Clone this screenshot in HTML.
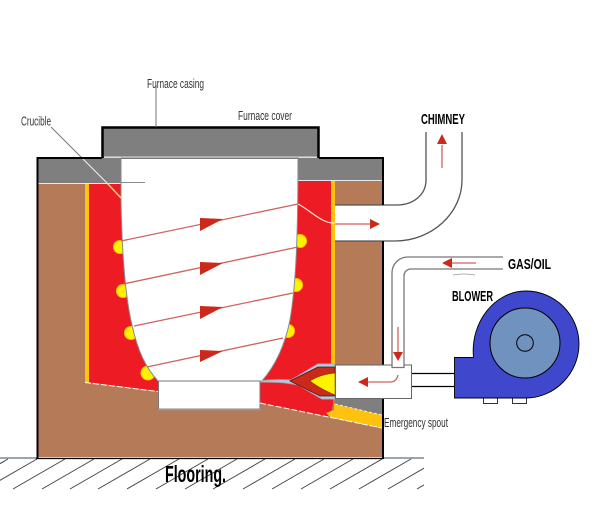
<!DOCTYPE html>
<html>
<head>
<meta charset="utf-8">
<style>
html,body{margin:0;padding:0;background:#fff;width:610px;height:521px;overflow:hidden}
svg{display:block}
text{font-family:"Liberation Sans Narrow","Liberation Sans",sans-serif}
</style>
</head>
<body>
<svg width="610" height="521" viewBox="0 0 610 521" xmlns="http://www.w3.org/2000/svg">
<defs><clipPath id="fl"><rect x="0" y="458" width="424" height="32"/></clipPath></defs>
<rect width="610" height="521" fill="#fff"/>
<!-- floor hatching -->
<g stroke="#444" stroke-width="1" fill="none" clip-path="url(#fl)">
<path d="M8 459L-44 489M37 459L-15 489M65 459L13 489M94 459L42 489M122 459L70 489M150 459L98 489M179 459L127 489M208 459L156 489M237 459L185 489M265 459L213 489M295 459L243 489M324 459L272 489M353 459L301 489M382 459L330 489M411 459L359 489M440 459L388 489M469 459L417 489"/>
</g>
<path d="M0 458H424" stroke="#607080" stroke-width="1.200"/>
<!-- furnace brown body -->
<rect x="37" y="158" width="346" height="300" fill="#b57a57"/>
<path d="M38 457.500H383" stroke="#eee" stroke-width="1"/>
<!-- red lining -->
<path d="M87 180H333V404L330 417L260 403V381H158V391L87 382Z" fill="#ed1c24"/>
<!-- gold strips -->
<rect x="85" y="183" width="4" height="200" fill="#ffc20e"/>
<rect x="331" y="180" width="4" height="186" fill="#ffc20e"/>
<!-- grey top bands -->
<rect x="37" y="158" width="84" height="25" fill="#7f7f7f"/>
<rect x="298" y="158" width="85" height="22" fill="#7f7f7f"/>
<path d="M38 183.500H121M298 180.500H383" stroke="#e8e8e8" stroke-width="1"/>
<!-- furnace cover -->
<rect x="102" y="127" width="217" height="31" fill="#7f7f7f"/>
<path d="M102.500 158V127.500H318.500V158" fill="none" stroke="#000" stroke-width="2.500"/>
<rect x="104" y="156.500" width="213" height="1.500" fill="#ddd"/>
<!-- yellow bumps -->
<g fill="#fff200" stroke="#ffc20e" stroke-width="1">
<circle cx="120" cy="247" r="6.500"/>
<circle cx="123" cy="291" r="6.500"/>
<circle cx="131" cy="333" r="6.500"/>
<circle cx="148" cy="373" r="7"/>
<circle cx="300" cy="241" r="6.500"/>
<circle cx="296" cy="285" r="6.500"/>
<circle cx="288" cy="331" r="6.500"/>
</g>
<!-- crucible -->
<path d="M121 158V200C122 260 126 300 132 325C138 352 146 368 158 381H262C275 366 285 345 290 320C295 290 298 250 298 158Z" fill="#fff" stroke="#8a8a8a" stroke-width="1"/>
<rect x="158.500" y="381" width="101.500" height="28" fill="#fff" stroke="#777" stroke-width="1"/>
<path d="M158 409.500H261" stroke="#999" stroke-width="1.500"/>
<path d="M121 158.500H298" stroke="#777" stroke-width="1"/>
<!-- white dashes on boundaries -->
<path d="M85 382.500L158 391.500M260 403L382 428" stroke="#fff" stroke-width="1" stroke-dasharray="6 2" fill="none"/>
<!-- crucible leader -->
<path d="M51 127L82 158" stroke="#777" stroke-width="1" fill="none"/>
<path d="M82 158L107 183" stroke="#f4f4f4" stroke-width="1" fill="none"/>
<path d="M107 183L121 198" stroke="#ffd080" stroke-width="1.500" fill="none"/>
<path d="M121 182.500H145" stroke="#888" stroke-width="1"/>
<path d="M156 85V127" stroke="#777" stroke-width="1"/>
<!-- chimney -->
<path d="M426 132V180C426 195 413 205 397 205H335V241H395C432 241 462 213 462 180V132Z" fill="#fff" stroke="none"/>
<path d="M426 132V180C426 195 413 205 397 205H335" fill="none" stroke="#555" stroke-width="1.300"/>
<path d="M462 132V180C462 213 432 241 395 241H335" fill="none" stroke="#555" stroke-width="1.300"/>
<path d="M383 158V205M383 241V365M383 398V458" stroke="#000" stroke-width="2"/>
<path d="M37 158H102M319 158H384" stroke="#000" stroke-width="2"/>
<path d="M37.500 157V458" stroke="#000" stroke-width="2"/>
<path d="M36 458.500H384" stroke="#000" stroke-width="1.300"/>
<!-- heat lines -->
<g stroke="#cf6260" stroke-width="1.300" fill="none">
<path d="M121 241L298 204"/>
<path d="M123 284L298 247"/>
<path d="M134 326L293 293"/>
<path d="M147 367L283 338"/>
<path d="M335 224H370"/>
<path d="M442 168V145"/>
</g>
<path d="M298 204C310 210 322 224 335 223" stroke="#fbe3d0" stroke-width="1.200" fill="none"/>
<g fill="#cb2a1a">
<path d="M200 218V231L223 219Z"/>
<path d="M200 262V275L223 263Z"/>
<path d="M200 306V319L223 307Z"/>
<path d="M200 350V362L223 351Z"/>
<path d="M370 219V229L380 224Z"/>
<path d="M437 144H447L442 134Z"/>
</g>
<!-- flame -->
<path d="M261 381C275 379 285 380 291 380L318 364H335V399H322L298 385C285 382 272 382 261 382Z" fill="#a9d3e6" stroke="#a8a8b8" stroke-width="1"/>
<path d="M290 381L318 367H335V396H320Z" fill="#cb2a1a" stroke="#5a1010" stroke-width="0.800"/>
<path d="M310 381C318 376 326 374 335 373V395C326 391 318 387 310 381Z" fill="#fff200" stroke="#5a3000" stroke-width="0.500"/>
<!-- spout -->
<path d="M335 398H382V415L335 404Z" fill="#7f7f7f"/>
<path d="M334 404L382 415V428L330 417L326 413L334 410Z" fill="#ffc20e"/>
<path d="M335 404L382 415M330 417L382 428" stroke="#fff" stroke-width="0.800" stroke-dasharray="3 2" fill="none"/>
<!-- blower pipes -->
<path d="M412 373.500H454M412 386.500H454" stroke="#000" stroke-width="1.300"/>
<!-- burner box -->
<rect x="335.500" y="365" width="76" height="33.500" fill="#fff" stroke="#666" stroke-width="1"/>
<!-- gas pipe -->
<path d="M503 257H408C399 257 392 264 392 273V367H404V276C404 272 407 269 411 269H503Z" fill="#fff" stroke="none"/>
<path d="M503 257H408C399 257 392 264 392 273V367.500H404V276C404 272 407 269 411 269H503" fill="none" stroke="#777" stroke-width="1.300"/>
<path d="M398 327V352M476 263H452" stroke="#cf6260" stroke-width="1.300" fill="none"/>
<path d="M393 352H403L398 361Z M452 258V268L442 263Z" fill="#cb2a1a"/>
<path d="M398 375C397 380 394 382 390 382H368" stroke="#cf6260" stroke-width="1.300" fill="none"/>
<path d="M368 377V387L358 382Z" fill="#cb2a1a"/>
<path d="M453 275Q464 273 475 275" stroke="#999" stroke-width="0.800" fill="none"/>
<!-- blower -->
<rect x="483.500" y="398" width="14" height="5.500" fill="#fff" stroke="#000" stroke-width="0.800"/>
<rect x="512.500" y="398" width="14" height="5.500" fill="#fff" stroke="#000" stroke-width="0.800"/>
<path d="M454.500 357.500H473.500C470 322 495 291 526 291C555 291 579 315 579 344C579 373 555 398 526 398H454.500Z" fill="#3f48cc" stroke="#000" stroke-width="0.900"/>
<circle cx="525" cy="343" r="35" fill="#7092be" stroke="#000" stroke-width="1"/>
<circle cx="525" cy="343" r="8.300" fill="#7092be" stroke="#000" stroke-width="1"/>
<!-- labels -->
<g fill="#333">
<text x="147" y="88" font-size="13" textLength="57" lengthAdjust="spacingAndGlyphs">Furnace casing</text>
<text x="238" y="120" font-size="13" textLength="54" lengthAdjust="spacingAndGlyphs">Furnace cover</text>
<text x="21" y="125.500" font-size="13" textLength="30" lengthAdjust="spacingAndGlyphs">Crucible</text>
<text x="384" y="427" font-size="13" textLength="64" lengthAdjust="spacingAndGlyphs">Emergency spout</text>
</g>
<g fill="#000" font-weight="bold">
<text x="421" y="124" font-size="15" textLength="44" lengthAdjust="spacingAndGlyphs">CHIMNEY</text>
<text x="508" y="269" font-size="15" textLength="43" lengthAdjust="spacingAndGlyphs">GAS/OIL</text>
<text x="452" y="301" font-size="15" textLength="41" lengthAdjust="spacingAndGlyphs">BLOWER</text>
<text x="165" y="482" font-size="23" textLength="61" lengthAdjust="spacingAndGlyphs">Flooring.</text>
</g>
</svg>
</body>
</html>
